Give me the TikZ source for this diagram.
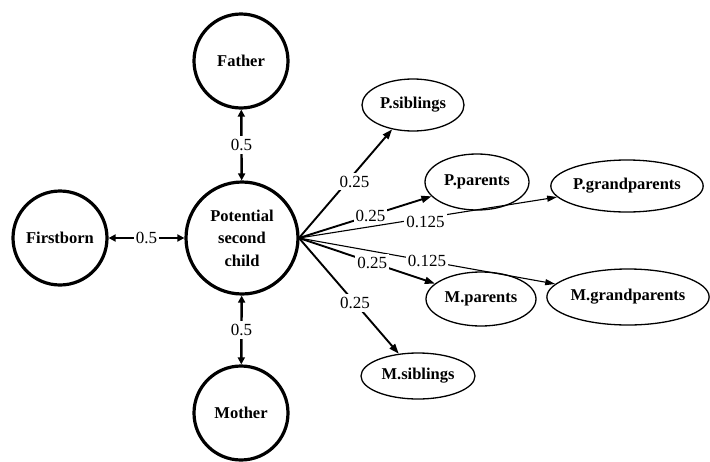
\documentclass[tikz,border=0pt]{standalone}
\usepackage{fontspec}
\setmainfont{Liberation Serif}
\usetikzlibrary{arrows.meta,shapes.geometric}
\begin{document}
\begin{tikzpicture}[x=1pt,y=-1pt,
  person/.style={circle,draw,line width=3.2pt,minimum size=94pt,inner sep=0pt,
    font=\fontsize{16.5}{22.5}\selectfont\bfseries,align=center},
  rel/.style={ellipse,draw,line width=1.3pt,inner sep=0pt,
    font=\fontsize{16.5}{19}\selectfont\bfseries},
  wlab/.style={fill=white,inner xsep=2pt,inner ysep=3pt,font=\fontsize{17}{19}\selectfont},
  pair/.style={line width=2.4pt,{Triangle[length=7pt,width=7pt]}-{Triangle[length=7pt,width=7pt]}},
  strong/.style={line width=1.9pt,-{Triangle[length=10pt,width=7pt]}},
  weak/.style={line width=1.1pt,-{Triangle[length=10pt,width=6pt]}}]
\useasboundingbox (0,0) rectangle (710,461);
\node[person] (father) at (241,61) {Father};
\node[person,minimum size=112pt] (child) at (242,238) {Potential\\second\\child};
\node[person] (first) at (60,238) {Firstborn};
\node[person] (mother) at (241,413) {Mother};
\node[rel,minimum width=102pt,minimum height=52pt] (psib) at (413,105) {P.siblings};
\node[rel,minimum width=104pt,minimum height=56pt] (ppar) at (477,182) {P.parents};
\node[rel,minimum width=150pt,minimum height=52pt] (pgp) at (627,186) {P.grandparents};
\node[rel,minimum width=152pt,minimum height=56pt] (mgp) at (628,297) {M.grandparents};
\node[rel,minimum width=110pt,minimum height=54pt] (mpar) at (481,299) {M.parents};
\node[rel,minimum width=114pt,minimum height=46pt] (msib) at (418,376) {M.siblings};
\coordinate (hub) at (299,238);
\draw[pair] (father) -- node[wlab]{0.5} (child);
\draw[pair] (mother) -- node[wlab]{0.5} (child);
\draw[pair] (first) -- node[wlab]{0.5} (child);
\draw[strong] (hub) -- node[wlab,pos=0.52,xshift=7pt]{0.25} (psib);
\draw[strong] (hub) -- node[wlab,pos=0.54]{0.25} (ppar);
\draw[weak] (hub) -- node[wlab,pos=0.49,yshift=-4pt]{0.125} (pgp);
\draw[weak] (hub) -- node[wlab,pos=0.5]{0.125} (mgp);
\draw[strong] (hub) -- node[wlab,pos=0.54]{0.25} (mpar);
\draw[strong] (hub) -- node[wlab,pos=0.56]{0.25} (msib);
\end{tikzpicture}
\end{document}
